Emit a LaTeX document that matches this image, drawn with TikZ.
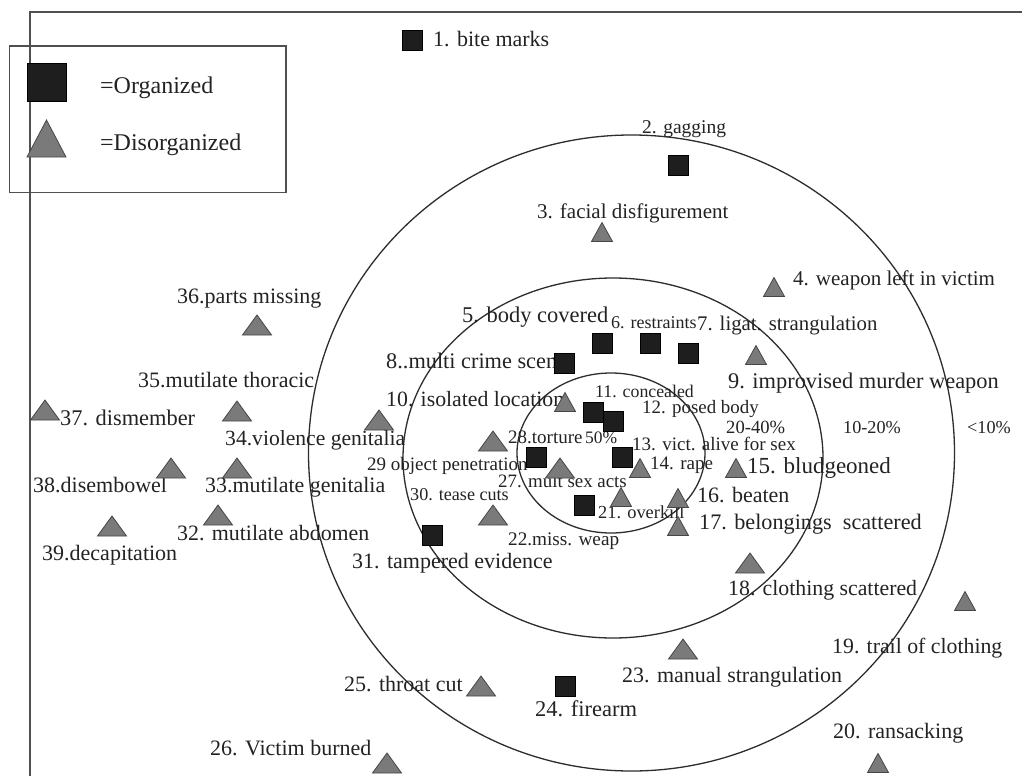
\documentclass[tikz,border=0pt]{standalone}
\usepackage{fontspec}
\setmainfont{Liberation Serif}
\definecolor{txt}{RGB}{35,35,35}
\definecolor{ringc}{RGB}{45,45,45}
\definecolor{framec}{RGB}{80,80,80}
\definecolor{sqc}{RGB}{30,30,30}
\definecolor{tric}{RGB}{122,122,122}
\definecolor{trie}{RGB}{70,70,70}
\begin{document}
\begin{tikzpicture}[x=1pt,y=-1pt,
  lbl/.style={anchor=west, inner sep=0pt, text height=15pt, text depth=4pt, text=txt, font=\fontsize{#1pt}{#1pt}\selectfont},
  ring/.style={draw=ringc, line width=1.3pt},
  framel/.style={draw=framec, line width=1.8pt},
  sqm/.style={fill=sqc, draw=black, line width=0.6pt},
  trim/.style={fill=tric, draw=trie, line width=0.8pt},
  sqr/.pic={\path[sqm] (-10,-10) rectangle (10,10);},
  btri/.pic={\path[trim] (-14.5,10) -- (14.5,10) -- (0,-10) -- cycle;},
  stri/.pic={\path[trim] (-10.5,9.5) -- (10.5,9.5) -- (0,-9.5) -- cycle;}
]
\useasboundingbox[fill=white] (0,0) rectangle (1022,776);

% frame and legend box
\draw[framel] (1022,12) -- (30,12) -- (30,776);
\draw[framel] (9.5,46) rectangle (286,192.5);
\path[sqm] (27,63) rectangle (66,101);
\path[trim] (27,157) -- (66,157) -- (46.5,120) -- cycle;
\node[lbl=24] (lgo) at (100,88) {=Organized};
\node[lbl=24] (lgd) at (100,145) {=Disorganized};

% rings
\draw[ring] (631.5,453) ellipse [x radius=323pt, y radius=318pt];
\draw[ring] (613,458) ellipse [x radius=210pt, y radius=180pt];
\draw[ring] (611,453) ellipse [x radius=94pt, y radius=80pt];

% labels
\node[lbl=22]   (l1)  at (433,41)  {1. bite marks};
\node[lbl=19.5] (l2)  at (642,128) {2. gagging};
\node[lbl=21]   (l3)  at (537,213) {3. facial disfigurement};
\node[lbl=21]   (l4)  at (793,280) {4. weapon left in victim};
\node[lbl=22.5] (l5)  at (462,317) {5. body covered};
\node[lbl=20.8] (l7)  at (697,325) {7. ligat. strangulation};
\node[lbl=18]   (l6)  at (611,323) {6. restraints};
\node[lbl=22.3] (l8)  at (386,363) {8..multi crime scene};
\node[lbl=22.4] (l9)  at (728,383) {9. improvised murder weapon};
\node[lbl=21.8] (l10) at (386,401) {10. isolated location};
\node[lbl=17.8] (l11) at (595,392) {11. concealed};
\node[lbl=18.9] (l12) at (642,408) {12. posed body};
\node[lbl=19]   (l13) at (632,445) {13. vict. alive for sex};
\node[lbl=19]   (l14) at (650,464) {14. rape};
\node[lbl=23]   (l15) at (747,468) {15. bludgeoned};
\node[lbl=22]   (l16) at (697,497) {16. beaten};
\node[lbl=22.2] (l17) at (699,524) {17. belongings\ \ scattered};
\node[lbl=21.8] (l18) at (728,590) {18. clothing scattered};
\node[lbl=21.8] (l19) at (832,648) {19. trail of clothing};
\node[lbl=22]   (l20) at (833,733) {20. ransacking};
\node[lbl=18.4] (l21) at (598,513) {21. overkill};
\node[lbl=19.2] (l22) at (508,540) {22.miss. weap};
\node[lbl=22]   (l23) at (622,677) {23. manual strangulation};
\node[lbl=22.5] (l24) at (535,711) {24. firearm};
\node[lbl=22]   (l25) at (344,686) {25. throat cut};
\node[lbl=22]   (l26) at (210,750) {26. Victim burned};
\node[lbl=18.9] (l27) at (498,482) {27. mult sex acts};
\node[lbl=19]   (l28) at (508,438) {28.torture};
\node[lbl=17.5] (l50) at (585,438) {50\%};
\node[lbl=19]   (l29) at (367,465) {29 object penetration};
\node[lbl=18.1] (l30) at (410,495) {30. tease cuts};
\node[lbl=22]   (l31) at (352,563) {31. tampered evidence};
\node[lbl=21.9] (l32) at (177,535) {32. mutilate abdomen};
\node[lbl=21.9] (l33) at (205,487) {33.mutilate genitalia};
\node[lbl=21.6] (l34) at (225,440) {34.violence genitalia};
\node[lbl=22]   (l35) at (138,382) {35.mutilate thoracic};
\node[lbl=22]   (l36) at (177,298) {36.parts missing};
\node[lbl=22.4] (l37) at (60,420)  {37. dismember};
\node[lbl=22]   (l38) at (33,487)  {38.disembowel};
\node[lbl=22]   (l39) at (42,555)  {39.decapitation};
\node[lbl=18.6] (p1)  at (726,428) {20-40\%};
\node[lbl=18.2] (p2)  at (843,428) {10-20\%};
\node[lbl=18.2] (p3)  at (967,428) {<10\%};

% organized markers (squares)
\pic (m1)  at (412.5,40.5) {sqr};
\pic (m2)  at (678,165) {sqr};
\pic (m5)  at (602,343) {sqr};
\pic (m6)  at (650,343) {sqr};
\pic (m7)  at (688,353) {sqr};
\pic (m8)  at (564,363) {sqr};
\pic (m11) at (593,412) {sqr};
\pic (m12) at (613,421) {sqr};
\pic (m29) at (536,457) {sqr};
\pic (m13) at (622,457) {sqr};
\pic (m21) at (584,505) {sqr};
\pic (m31) at (432,535) {sqr};
\pic (m24) at (565,686) {sqr};

% disorganized markers (triangles)
\pic (t36) at (257,325) {btri};
\pic (t35) at (237,411) {btri};
\pic (t37) at (45,410)  {btri};
\pic (t38) at (171,468) {btri};
\pic (t33) at (237,468) {btri};
\pic (t32) at (218,515) {btri};
\pic (t39) at (112,526) {btri};
\pic (t34) at (379,420) {btri};
\pic (t28) at (493,441) {btri};
\pic (t30) at (493,515) {btri};
\pic (t27) at (560,468) {btri};
\pic (t18) at (750,563) {btri};
\pic (t25) at (481,686) {btri};
\pic (t26) at (387,763) {btri};
\pic (t23) at (683,649) {btri};
\pic (t3)  at (602,232) {stri};
\pic (t4)  at (774,287) {stri};
\pic (t9)  at (756,355) {stri};
\pic (t10) at (565,402) {stri};
\pic (t14) at (640,468) {stri};
\pic (t21) at (621,497) {stri};
\pic (t16) at (678,498) {stri};
\pic (t17) at (678,526) {stri};
\pic (t15) at (736,468) {stri};
\pic (t19) at (965,601) {stri};
\pic (t20) at (878,763) {stri};
\end{tikzpicture}
\end{document}
